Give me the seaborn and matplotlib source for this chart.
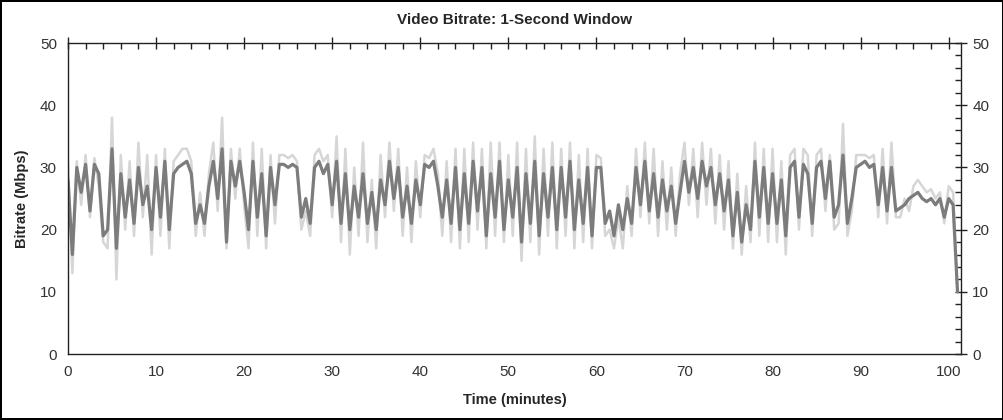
import numpy as np
import pandas as pd
import matplotlib
matplotlib.use("Agg")
import matplotlib.pyplot as plt
import seaborn as sns
from matplotlib.ticker import MultipleLocator

sns.set_theme(style="white")
plt.rcParams['font.family'] = ['Liberation Sans', 'DejaVu Sans']

# time grid in minutes (one sample every half minute)
minutes = np.arange(0, 101.5, 0.5)

# 1-second bitrate (Mbps)
bitrate = [
    28, 16, 30, 26, 30.5, 23, 30.5, 29, 19, 20, 33, 17, 29, 22, 28, 21, 30, 24, 27, 20, 30,
    22, 31, 20, 29, 30, 30.5, 31, 29, 21, 24, 21, 27, 31, 25, 33, 18, 31, 27, 31, 26,
    20, 31, 22, 29, 19, 30, 24, 30.5, 30.5, 30, 30.5, 30, 22, 25, 21, 30, 31, 29, 30.5, 24,
    31, 21, 29, 20, 27, 22, 29, 21, 26, 20, 28, 24, 31, 25, 30, 22, 27, 21, 28, 24,
    30.5, 30, 31, 27, 22, 28, 21, 30, 20, 29, 21, 31, 23, 30, 19, 29, 22, 31, 20, 28,
    22, 30, 18, 29, 21, 31, 19, 29, 22, 30, 20, 30, 22, 31, 20, 28, 21, 30, 19, 30,
    30, 21, 23, 19, 24, 20, 25, 21, 30, 24, 31, 23, 29, 22, 28, 23, 27, 21, 26, 31,
    26, 30, 25, 31, 27, 30, 24, 29, 23, 28, 19, 26, 18, 24, 20, 31, 22, 30, 21, 29,
    21, 28, 19, 30, 31, 22, 30.5, 29, 21, 30, 31, 25, 31, 22, 24, 32, 21, 25, 30, 30.5,
    31, 30, 30.5, 24, 30, 23, 30, 23, 23.5, 24, 25, 25.5, 26, 25, 24.5, 25, 24, 25, 22, 25,
    24, 10,
]

# peak / trough envelope (light grey)
peak = [
    31, 13, 31, 24, 32, 22, 31.5, 27, 18, 17, 38, 12, 32, 20, 31, 19, 34, 22, 32, 16, 32,
    19, 33, 17, 31, 32, 33, 33, 31, 19, 26, 19, 29, 34, 23, 38, 17, 33, 25, 33, 24,
    17, 34, 19, 33, 17, 32, 21, 32, 32, 31.5, 32, 31, 20, 23, 19, 32, 33, 31, 32, 22,
    35, 18, 33, 16, 30, 19, 34, 18, 28, 17, 32, 22, 34, 23, 33, 19, 30, 18, 31, 22,
    32, 31.5, 33, 29, 19, 31, 18, 33, 17, 33, 18, 34, 20, 33, 17, 34, 19, 34, 18, 32,
    19, 34, 15, 33, 18, 35, 16, 33, 19, 34, 17, 33, 19, 34, 17, 32, 18, 33, 17, 32,
    31.5, 19, 20, 17, 22, 17, 27, 19, 33, 22, 34, 21, 33, 19, 31, 20, 30, 19, 29, 34,
    24, 33, 22, 34, 24, 33, 21, 32, 20, 31, 17, 29, 16, 27, 18, 34, 19, 33, 18, 33,
    18, 31, 16, 32, 33, 20, 33, 32, 19, 32, 33, 23, 32, 20, 21, 37, 19, 23, 32, 32,
    32, 31.5, 32, 22, 33, 21, 34, 22, 22, 25, 23, 27, 28, 27, 26, 26.5, 25, 26, 21, 27,
    26, 10,
]

df = pd.DataFrame({'minutes': minutes, 'bitrate': bitrate, 'peak': peak})

fig = plt.figure(figsize=(10.04, 4.2), dpi=100)
fig.patch.set_edgecolor('black')
fig.patch.set_linewidth(1.5)
ax = fig.add_axes([0.0677, 0.157, 0.8895, 0.7405])

sns.lineplot(data=df, x='minutes', y='peak', color='#d6d6d6', lw=1.8, ax=ax)
sns.lineplot(data=df, x='minutes', y='bitrate', color='#7c7c7c', lw=2.3, ax=ax)

ax.set_xlim(0, 101.4)
ax.set_ylim(0, 50)
ax.xaxis.set_major_locator(MultipleLocator(10))
ax.xaxis.set_minor_locator(MultipleLocator(2))
ax.yaxis.set_major_locator(MultipleLocator(10))
ax.yaxis.set_minor_locator(MultipleLocator(2))

for s in ax.spines.values():
    s.set_color('#222222')
    s.set_linewidth(1.0)

ax.tick_params(which='major', direction='inout', length=8, width=1, color='#222222',
               labelsize=11, labelcolor='#333333', top=True, right=True,
               labelright=True, pad=4)
ax.tick_params(which='minor', direction='in', length=4, width=1, color='#222222',
               top=True, right=True)

ax.set_xlabel('Time (minutes)', fontsize=10.5, fontweight='bold', labelpad=10)
ax.set_ylabel('Bitrate (Mbps)', fontsize=10.5, fontweight='bold', labelpad=8)
ax.set_title('Video Bitrate: 1-Second Window', fontsize=11, fontweight='bold', pad=14)
ax.grid(False)

plt.savefig('out.png', dpi=100)
